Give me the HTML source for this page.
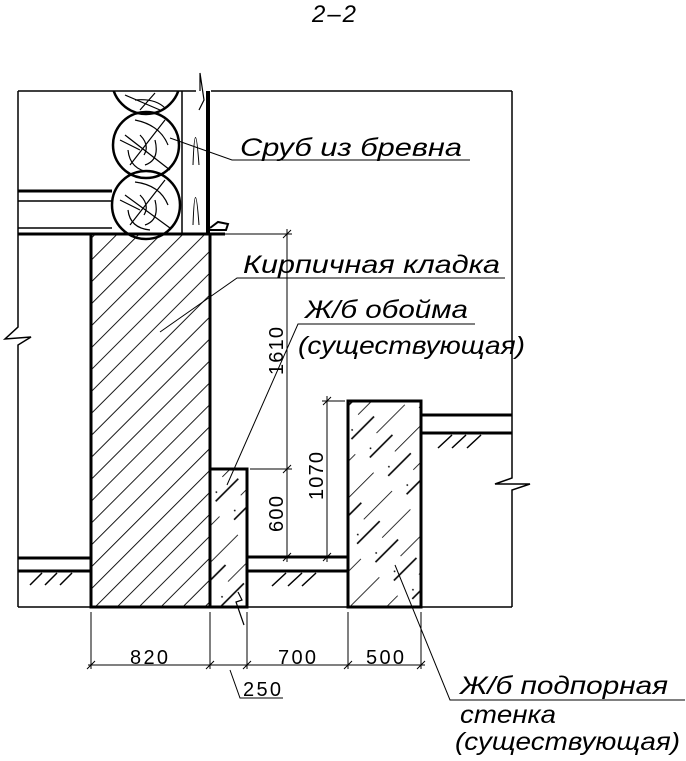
<!DOCTYPE html>
<html><head><meta charset="utf-8"><style>
html,body{margin:0;padding:0;background:#fff;}
svg{display:block}
text{font-family:"Liberation Sans",sans-serif;font-style:italic;fill:#000;}
</style></head><body>
<svg width="686" height="761" viewBox="0 0 686 761" xmlns="http://www.w3.org/2000/svg">
<defs>
<pattern id="brick" width="15.5" height="15.5" patternUnits="userSpaceOnUse" patternTransform="rotate(45)">
<line x1="0" y1="0" x2="0" y2="15.5" stroke="#000" stroke-width="1.8"/>
</pattern>
<pattern id="conc" width="26" height="70" patternUnits="userSpaceOnUse" patternTransform="rotate(45)">
<line x1="0" y1="0" x2="0" y2="40" stroke="#000" stroke-width="1.6"/>
<line x1="13" y1="30" x2="13" y2="62" stroke="#000" stroke-width="1.6"/>
<circle cx="7" cy="55" r="0.9" fill="#000"/>
</pattern>
<clipPath id="frameclip"><rect x="18" y="91" width="200" height="200"/></clipPath>
</defs>
<g stroke="#000" fill="none">
<polyline points="18,91 18,327 5,339 31,337 18,345 18,607" stroke-width="1.5"/>
<line x1="18" y1="91" x2="196" y2="91" stroke-width="1.5"/>
<line x1="211" y1="91" x2="512" y2="91" stroke-width="1.5"/>
<polyline points="512,91 512,478 495,484 530,484 512,490 512,607" stroke-width="1.5"/>
<line x1="18" y1="607" x2="512" y2="607" stroke-width="1.5"/>
<line x1="18" y1="191" x2="112" y2="191" stroke-width="3"/>
<line x1="18" y1="201" x2="112" y2="201" stroke-width="1.5"/>
<line x1="18" y1="228" x2="112" y2="228" stroke-width="1.5"/>
<line x1="18" y1="234" x2="225" y2="234" stroke-width="3"/>
<g clip-path="url(#frameclip)" stroke-width="2.5">
<circle cx="146" cy="80" r="34"/>
</g>
<circle cx="146" cy="145" r="33" stroke-width="2.5"/>
<circle cx="146" cy="205" r="34" stroke-width="2.5"/>
<g stroke-width="1.2">
<path d="M125 135 L170 170 M165 120 L130 165 M135 120 Q160 125 168 145 M128 150 Q130 170 150 172 M140 135 Q150 145 144 155 M155 140 Q160 160 145 165 M120 140 L140 150"/>
<path d="M125 195 L170 228 M165 180 L130 225 M135 182 Q160 185 168 205 M128 210 Q130 228 150 230 M140 195 Q150 205 144 215 M155 200 Q160 220 145 225 M120 200 L140 210"/>
<path d="M125 95 L160 110 M155 93 L140 110 M135 100 Q155 98 165 108"/>
</g>
<line x1="182" y1="91" x2="182" y2="234" stroke-width="1.5"/>
<line x1="208" y1="91" x2="208" y2="234" stroke-width="4"/>
<polyline points="200,91 200,73 204,100 199,110" stroke-width="1.2"/>
<path d="M193 165 Q195 110 199 165 M193 225 Q195 170 199 225" stroke-width="1"/>
<polyline points="208,230 226,230 228,224 218,222 210,228" stroke-width="2"/>
<rect x="91" y="234" width="119" height="373" fill="url(#brick)" stroke-width="3"/>
<rect x="210" y="469" width="37" height="138" fill="url(#conc)" stroke-width="3"/>
<polyline points="238,592 242,600 236,602 244,625" stroke-width="1.2"/>
<rect x="348" y="401" width="73" height="206" fill="url(#conc)" stroke-width="3"/>
<line x1="18" y1="558" x2="91" y2="558" stroke-width="3"/>
<line x1="18" y1="571" x2="91" y2="571" stroke-width="3"/>
<path d="M30 585 L42 573 M45 585 L57 573 M60 585 L72 573" stroke-width="1.5"/>
<line x1="247" y1="557" x2="348" y2="557" stroke-width="3"/>
<line x1="247" y1="571" x2="348" y2="571" stroke-width="3"/>
<path d="M272 586 L286 573 M288 586 L302 573 M302 586 L316 573" stroke-width="1.5"/>
<line x1="421" y1="415" x2="512" y2="415" stroke-width="3"/>
<line x1="421" y1="433" x2="512" y2="433" stroke-width="3"/>
<path d="M438 448 L452 435 M452 448 L466 435 M467 448 L481 435" stroke-width="1.5"/>
<g stroke-width="1">
<line x1="210" y1="234" x2="292" y2="234"/>
<line x1="250" y1="469" x2="292" y2="469"/>
<line x1="287" y1="229" x2="287" y2="562"/>
<line x1="283" y1="238" x2="291" y2="230"/>
<line x1="283" y1="473" x2="291" y2="465"/>
<line x1="283" y1="561" x2="291" y2="553"/>
<line x1="322" y1="401" x2="345" y2="401"/>
<line x1="327" y1="396" x2="327" y2="562"/>
<line x1="323" y1="405" x2="331" y2="397"/>
<line x1="323" y1="561" x2="331" y2="553"/>
<line x1="88" y1="665" x2="425" y2="665"/>
<line x1="91" y1="612" x2="91" y2="669"/>
<line x1="210" y1="612" x2="210" y2="669"/>
<line x1="247" y1="612" x2="247" y2="669"/>
<line x1="348" y1="612" x2="348" y2="669"/>
<line x1="421" y1="612" x2="421" y2="669"/>
<path d="M87 669 L95 661 M206 669 L214 661 M243 669 L251 661 M344 669 L352 661 M417 669 L425 661"/>
<polyline points="230,670 240,698 283,698"/>
<polyline points="170,138 232,160 470,160"/>
<polyline points="160,332 237,278 505,278"/>
<polyline points="227,485 298,324 475,324"/>
<polyline points="395,565 450,700 685,700"/>
</g>
</g>
<text x="312" y="22" font-size="24" textLength="44">2–2</text>
<text x="240" y="156" font-size="25" textLength="222" lengthAdjust="spacingAndGlyphs">Сруб из бревна</text>
<text x="243" y="273" font-size="25" textLength="257" lengthAdjust="spacingAndGlyphs">Кирпичная кладка</text>
<text x="305" y="318" font-size="25" textLength="163" lengthAdjust="spacingAndGlyphs">Ж/б обойма</text>
<text x="298" y="354" font-size="25" textLength="227" lengthAdjust="spacingAndGlyphs">(существующая)</text>
<text x="460" y="694" font-size="25" textLength="208" lengthAdjust="spacingAndGlyphs">Ж/б подпорная</text>
<text x="460" y="723" font-size="25" textLength="96" lengthAdjust="spacingAndGlyphs">стенка</text>
<text x="455" y="750" font-size="25" textLength="225" lengthAdjust="spacingAndGlyphs">(существующая)</text>
<text x="130" y="664" font-size="20" style="font-style:normal" textLength="38">820</text>
<text x="278" y="664" font-size="20" style="font-style:normal" textLength="38">700</text>
<text x="366" y="664" font-size="20" style="font-style:normal" textLength="38">500</text>
<text x="243" y="696" font-size="20" style="font-style:normal" textLength="38">250</text>
<text transform="translate(283,375) rotate(-90)" font-size="20" style="font-style:normal" textLength="48">1610</text>
<text transform="translate(283,532) rotate(-90)" font-size="20" style="font-style:normal" textLength="36">600</text>
<text transform="translate(323,500) rotate(-90)" font-size="20" style="font-style:normal" textLength="48">1070</text>
</svg>
</body></html>
